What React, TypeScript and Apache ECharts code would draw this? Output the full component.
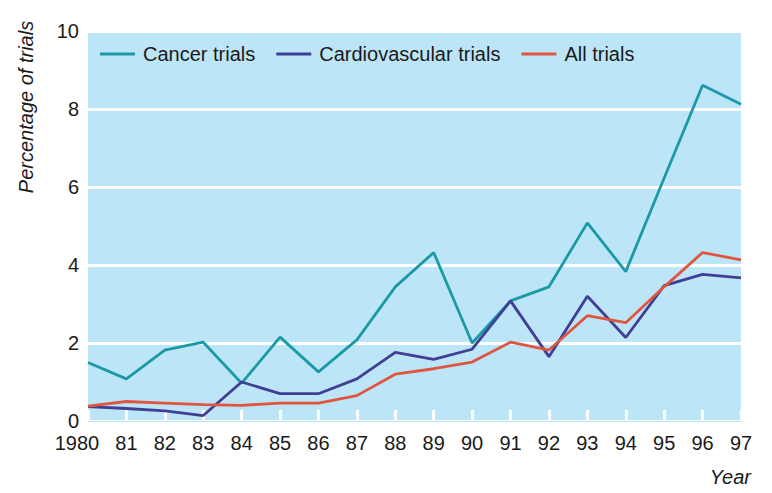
import React, { useEffect, useRef } from "react";
import * as echarts from "echarts";

const years = ["1980", "81", "82", "83", "84", "85", "86", "87", "88", "89", "90", "91", "92", "93", "94", "95", "96", "97"];
const cancer = [1.5, 1.08, 1.82, 2.02, 0.97, 2.15, 1.26, 2.08, 3.44, 4.32, 2.0, 3.08, 3.44, 5.08, 3.83, 6.23, 8.61, 8.12];
const cardio = [0.37, 0.32, 0.26, 0.14, 1.0, 0.7, 0.7, 1.08, 1.76, 1.58, 1.84, 3.08, 1.65, 3.2, 2.14, 3.47, 3.76, 3.67];
const allTrials = [0.38, 0.5, 0.46, 0.42, 0.4, 0.46, 0.46, 0.65, 1.2, 1.34, 1.51, 2.02, 1.82, 2.7, 2.52, 3.44, 4.32, 4.13];
const yTicks = [0, 2, 4, 6, 8, 10];

const FONT = "'Liberation Sans', Arial, sans-serif";

export default function App() {
  const ref = useRef<HTMLDivElement>(null);
  useEffect(() => {
    if (!ref.current) return;
    const chart = echarts.init(ref.current, null, { renderer: "svg" });
    chart.setOption({
      animation: false,
      backgroundColor: "#ffffff",
      grid: {
        left: 88,
        right: 31,
        top: 31,
        bottom: 72,
        show: true,
        backgroundColor: "#bde5f8",
        borderWidth: 0,
      },
      legend: {
        left: 95,
        top: 39,
        icon: "rect",
        itemWidth: 35,
        itemHeight: 3,
        itemGap: 21,
        textStyle: { fontFamily: FONT, fontSize: 20, color: "#1a1a1a", padding: [0, 0, 0, 3] },
        data: ["Cancer trials", "Cardiovascular trials", "All trials"],
      },
      xAxis: {
        type: "category",
        data: years,
        boundaryGap: false,
        z: 1,
        axisLine: { show: true, lineStyle: { color: "#bde5f8", width: 1 } },
        axisTick: {
          show: true,
          inside: true,
          length: 11,
          interval: 0,
          lineStyle: { color: "#ffffff", width: 3 },
        },
        axisLabel: {
          fontFamily: FONT,
          fontSize: 20,
          color: "#1a1a1a",
          margin: 12,
          interval: 0,
          formatter: (v: string, i: number) => (i === 0 ? "{first|" + v + "}" : v),
          rich: {
            first: { fontFamily: FONT, fontSize: 20, color: "#1a1a1a", padding: [0, 22, 0, 0] },
          },
        },
        splitLine: { show: false },
      },
      yAxis: {
        type: "value",
        min: yTicks[0],
        max: yTicks[yTicks.length - 1],
        interval: 2,
        axisLine: { show: false },
        axisTick: { show: false },
        axisLabel: { fontFamily: FONT, fontSize: 20, color: "#1a1a1a", margin: 9 },
        splitLine: { show: true, lineStyle: { color: "#ffffff", width: 3 } },
      },
      graphic: [
        {
          type: "text",
          x: 26,
          y: 107,
          rotation: Math.PI / 2,
          style: {
            text: "Percentage of trials",
            fontFamily: FONT,
            fontSize: 20,
            fontStyle: "italic",
            fill: "#1a1a1a",
            textAlign: "center",
            textVerticalAlign: "middle",
          },
        },
        {
          type: "text",
          x: 751,
          y: 477,
          style: {
            text: "Year",
            fontFamily: FONT,
            fontSize: 20,
            fontStyle: "italic",
            fill: "#1a1a1a",
            textAlign: "right",
            textVerticalAlign: "middle",
          },
        },
      ],
      series: [
        {
          name: "Cancer trials",
          type: "line",
          data: cancer,
          symbol: "none",
          z: 5,
          lineStyle: { color: "#1b9aa6", width: 2.8 },
          itemStyle: { color: "#1b9aa6" },
        },
        {
          name: "Cardiovascular trials",
          type: "line",
          data: cardio,
          symbol: "none",
          z: 5,
          lineStyle: { color: "#403f95", width: 2.8 },
          itemStyle: { color: "#403f95" },
        },
        {
          name: "All trials",
          type: "line",
          data: allTrials,
          symbol: "none",
          z: 5,
          lineStyle: { color: "#e0553f", width: 2.8 },
          itemStyle: { color: "#e0553f" },
        },
      ],
    });
    return () => chart.dispose();
  }, []);
  return <div ref={ref} style={{ width: 772, height: 493, margin: -8 }} />;
}
